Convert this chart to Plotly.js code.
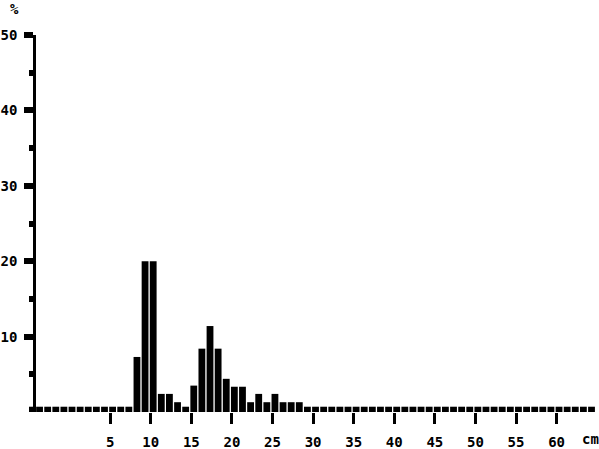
<!DOCTYPE html>
<html>
<head>
<meta charset="utf-8">
<script src="https://cdn.plot.ly/plotly-3.0.1.min.js"></script>
<style>html,body{margin:0;padding:0;background:#fff;}#chart{width:599px;height:449px;}</style>
</head>
<body>
<div id="chart"></div>
<script>
// bin start (cm), each bin is 1 cm wide
const binStarts = [];
for (let k = -5; k <= 64; k++) binStarts.push(k);

// percentage per bin (bins -5 .. 64)
const percents = [
  0.7, 0.7, 0.7, 0.7, 0.7, 0.7, 0.7, 0.7, 0.7, 0.7, 0.7, 0.7, 0.7, // -5..7
  7.3, 20, 20, 2.4, 2.4, 1.3, 0.7,                                  // 8..14
  3.5, 8.4, 11.4, 8.4, 4.4,                                         // 15..19
  3.35, 3.35, 1.3, 2.4, 1.3,                                        // 20..24
  2.4, 1.3, 1.3, 1.3, 0.7,                                          // 25..29
  0.7, 0.7, 0.7, 0.7, 0.7, 0.7, 0.7, 0.7, 0.7, 0.7,                 // 30..39
  0.7, 0.7, 0.7, 0.7, 0.7, 0.7, 0.7, 0.7, 0.7, 0.7,                 // 40..49
  0.7, 0.7, 0.7, 0.7, 0.7, 0.7, 0.7, 0.7, 0.7, 0.7,                 // 50..59
  0.7, 0.7, 0.7, 0.7, 0.7                                           // 60..64
];

const xTickVals = [5, 10, 15, 20, 25, 30, 35, 40, 45, 50, 55, 60];
const xTickText = ["5", "10", "15", "20", "25", "30", "35", "40", "45", "50", "55", "60"];
const xLongTickVals = [10, 20, 30, 40, 50, 60];
const yTickVals = [10, 20, 30, 40, 50];
const yTickText = ["10", "20", "30", "40", "50"];
const yUnit = "%";
const xUnit = "cm";

const FONT = {family: "DejaVu Sans Mono, monospace", size: 14, color: "#000", weight: "bold"};
const XR = [-5, 65.1];

const trace = {
  type: "bar",
  x: binStarts,
  y: percents,
  width: 0.84,
  offset: -0.12,
  marker: {color: "#000", line: {width: 0}},
  hoverinfo: "skip"
};

const layout = {
  width: 599, height: 449,
  margin: {l: 29, r: 1, t: 35, b: 37, pad: 0},
  paper_bgcolor: "#fff", plot_bgcolor: "#fff",
  showlegend: false,
  font: FONT,
  xaxis: {
    range: XR, showgrid: false, zeroline: false, showline: false,
    tickmode: "array", tickvals: xTickVals, ticktext: xTickText,
    ticks: "outside", ticklen: 11, tickwidth: 3, tickcolor: "#000",
    ticklabelstandoff: 6,
    tickfont: FONT, fixedrange: true
  },
  xaxis2: {
    overlaying: "x", anchor: "y", side: "bottom",
    range: XR, showgrid: false, zeroline: false, showline: false,
    tickmode: "array", tickvals: xLongTickVals,
    ticks: "outside", ticklen: 17, tickwidth: 3, tickcolor: "#000",
    showticklabels: false, fixedrange: true
  },
  yaxis: {
    range: [0, 50], anchor: "free", position: 0.0091,
    showgrid: false, zeroline: false,
    showline: true, linewidth: 3, linecolor: "#000",
    tickmode: "array", tickvals: yTickVals, ticktext: yTickText,
    ticks: "outside", ticklen: 9, tickwidth: 6, tickcolor: "#000",
    ticklabelstandoff: 4,
    minor: {tickmode: "linear", tick0: 5, dtick: 10, ticks: "outside", ticklen: 4, tickwidth: 6, tickcolor: "#000", showgrid: false},
    tickfont: FONT, fixedrange: true
  },
  annotations: [
    {text: yUnit, xref: "paper", yref: "paper", x: -0.026, y: 1.069, xanchor: "center", yanchor: "middle", showarrow: false, font: FONT},
    {text: xUnit, xref: "x", yref: "paper", x: 64.2, y: -0.0716, xanchor: "center", yanchor: "middle", showarrow: false, font: FONT}
  ]
};

Plotly.newPlot("chart", [trace], layout, {displayModeBar: false, staticPlot: true});
</script>
</body>
</html>
